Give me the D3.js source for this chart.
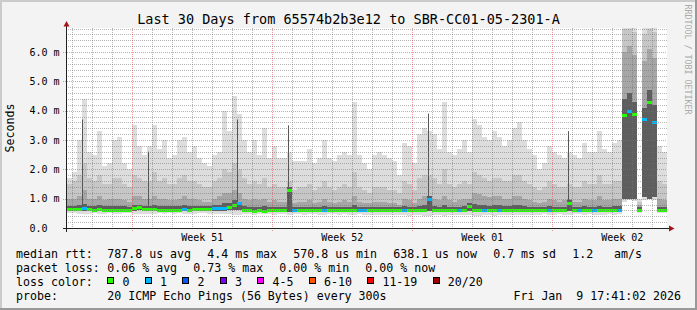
<!DOCTYPE html>
<html lang="en">
<head>
<meta charset="UTF-8">
<title>smokeping last 30 days</title>
<style>
  body { margin: 0; background: #f3f3f3; overflow: hidden; }
  svg { display: block; }
  svg text { font-family: "DejaVu Sans Mono", monospace; fill: #000; white-space: pre; }
  .title { font-size: 13.5px; text-anchor: middle; }
  .legend { font-size: 11.6px; }
  .tick { font-size: 10px; }
  .mark { font-size: 8.3px; fill: #aaaaaa; }
</style>
<script src="https://d3js.org/d3.v7.min.js"></script>
</head>
<body>
<script>
// one value every 6 hours, in ms
var median = [
  0.66,0.66,0.65,0.68,0.64,0.63,0.64,0.63,0.62,0.63,
  0.63,0.62,0.63,0.68,0.70,0.64,0.66,0.64,0.63,0.63,
  0.62,0.63,0.62,0.64,0.63,0.64,0.66,0.65,0.66,0.68,
  0.68,0.68,0.70,0.78,0.85,0.60,0.60,0.59,0.60,0.59,
  0.60,0.60,0.61,0.61,1.30,0.62,0.60,0.61,0.60,0.61,
  0.61,0.60,0.61,0.62,0.61,0.61,0.62,0.62,0.61,0.62,
  0.61,0.60,0.62,0.61,0.61,0.62,0.61,0.62,0.62,0.61,
  0.61,0.62,1.00,0.62,0.61,0.63,0.62,0.61,0.61,0.62,
  0.75,0.62,0.63,0.62,0.61,0.60,0.62,0.61,0.62,0.61,
  0.61,0.61,0.60,0.61,0.61,0.60,0.61,0.61,0.62,0.61,
  0.85,0.62,0.61,0.61,0.61,0.62,0.61,0.61,0.62,0.61,
  0.61,3.85,4.00,3.90,0.60,3.70,4.30,3.60,0.60,0.60
];
var loss = [
  0,0,0,1,0,0,0,0,0,0, 0,0,0,0,0,0,0,0,0,0,
  0,0,0,1,0,0,0,0,0,1, 1,1,0,0,1,0,0,0,0,0,
  0,0,0,0,0,1,0,0,0,0, 0,1,0,0,0,0,0,0,1,1,
  0,0,0,0,0,0,0,1,0,0, 0,0,1,0,0,0,0,0,1,0,
  0,0,0,1,0,0,1,0,0,0, 0,0,0,0,0,0,1,0,0,0,
  0,0,1,0,0,1,0,0,0,0, 1,0,1,0,0,1,0,1,0,0
];
var pMin = [
  0.50,0.50,0.49,0.48,0.49,0.50,0.48,0.49,0.50,0.49,
  0.48,0.50,0.50,0.48,0.47,0.49,0.49,0.48,0.50,0.49,
  0.50,0.49,0.50,0.48,0.49,0.49,0.50,0.50,0.49,0.48,
  0.48,0.47,0.47,0.46,0.46,0.47,0.47,0.46,0.47,0.47,
  0.47,0.46,0.47,0.47,0.46,0.47,0.47,0.46,0.47,0.47,
  0.46,0.46,0.47,0.47,0.46,0.47,0.46,0.45,0.47,0.46,
  0.45,0.44,0.44,0.43,0.44,0.45,0.45,0.43,0.42,0.44,
  0.43,0.42,0.42,0.43,0.44,0.42,0.44,0.45,0.45,0.44,
  0.44,0.42,0.42,0.43,0.43,0.42,0.44,0.45,0.44,0.43,
  0.43,0.44,0.45,0.46,0.46,0.47,0.46,0.46,0.47,0.46,
  0.46,0.47,0.47,0.46,0.47,0.46,0.45,0.46,0.47,0.46,
  0.47,0.90,0.95,0.92,0.50,0.95,0.98,0.95,0.50,0.50
];
var pLow = [
  0.58,0.58,0.58,0.58,0.57,0.57,0.57,0.57,0.56,0.57,
  0.57,0.56,0.57,0.59,0.60,0.57,0.58,0.57,0.57,0.57,
  0.56,0.57,0.56,0.57,0.57,0.57,0.58,0.58,0.58,0.59,
  0.59,0.59,0.60,0.62,0.60,0.54,0.54,0.53,0.54,0.53,
  0.54,0.54,0.55,0.55,0.56,0.55,0.54,0.55,0.54,0.55,
  0.55,0.54,0.55,0.56,0.55,0.55,0.56,0.56,0.55,0.56,
  0.55,0.54,0.55,0.55,0.55,0.56,0.55,0.56,0.56,0.55,
  0.55,0.56,0.58,0.56,0.55,0.56,0.56,0.55,0.55,0.56,
  0.58,0.56,0.56,0.56,0.55,0.54,0.56,0.55,0.56,0.55,
  0.55,0.55,0.54,0.55,0.55,0.54,0.55,0.55,0.56,0.55,
  0.58,0.56,0.55,0.55,0.55,0.56,0.55,0.55,0.56,0.55,
  0.55,1.00,0.98,1.00,0.55,1.05,1.00,1.05,0.55,0.55
];
var p60 = [
  0.76,0.76,0.78,0.82,0.75,0.75,0.78,0.74,0.74,0.76,
  0.76,0.74,0.73,0.80,0.80,0.76,0.76,0.78,0.75,0.76,
  0.74,0.74,0.76,0.78,0.75,0.76,0.75,0.74,0.74,0.78,
  0.80,0.85,0.85,0.95,0.90,0.74,0.72,0.73,0.72,0.74,
  0.72,0.72,0.72,0.72,1.40,0.72,0.72,0.72,0.73,0.71,
  0.72,0.74,0.72,0.71,0.72,0.73,0.72,0.78,0.72,0.71,
  0.71,0.72,0.72,0.72,0.71,0.71,0.70,0.74,0.73,0.71,
  0.74,0.78,1.10,0.76,0.73,0.78,0.73,0.72,0.73,0.75,
  0.85,0.82,0.80,0.78,0.76,0.78,0.78,0.75,0.75,0.78,
  0.78,0.75,0.73,0.72,0.71,0.72,0.74,0.73,0.72,0.73,
  0.95,0.72,0.72,0.74,0.73,0.73,0.76,0.73,0.73,0.74,
  0.74,4.40,4.60,4.30,0.70,4.10,4.70,4.20,0.73,0.72
];
var p75 = [
  1.00,1.00,1.10,1.30,1.00,1.00,1.10,0.95,1.00,1.00,
  1.00,0.95,0.90,1.10,1.10,1.00,1.00,1.10,1.00,1.00,
  0.95,0.95,1.00,1.10,1.00,1.00,0.95,0.90,0.90,1.00,
  1.10,1.20,1.20,1.30,1.20,1.00,0.95,1.00,0.95,1.00,
  0.90,0.95,0.90,0.90,1.30,0.85,0.90,0.90,0.95,0.85,
  0.90,1.00,0.90,0.85,0.90,0.95,0.90,1.10,0.90,0.85,
  0.85,0.90,0.90,0.90,0.85,0.85,0.80,1.00,0.95,0.85,
  1.00,1.10,1.10,1.00,0.95,1.10,0.95,0.90,0.95,1.00,
  1.00,1.20,1.15,1.10,1.05,1.10,1.10,1.00,1.00,1.10,
  1.10,1.00,0.95,0.90,0.85,0.90,1.00,0.95,0.90,0.95,
  1.00,0.90,0.90,1.00,0.95,0.95,1.10,0.95,0.95,1.00,
  1.00,6.00,6.20,5.90,0.80,5.70,6.10,5.80,1.00,0.95
];
var p90 = [
  1.5,1.6,1.8,2.2,1.7,1.6,1.8,1.5,1.5,1.7,
  1.7,1.5,1.4,1.8,1.7,1.6,1.6,1.9,1.6,1.7,
  1.5,1.5,1.7,1.8,1.6,1.6,1.5,1.4,1.4,1.6,
  1.7,2.0,1.9,2.2,2.0,1.7,1.5,1.6,1.5,1.7,
  1.4,1.5,1.4,1.4,1.6,1.3,1.4,1.4,1.5,1.3,
  1.4,1.6,1.4,1.3,1.4,1.5,1.4,1.9,1.4,1.3,
  1.2,1.4,1.4,1.4,1.3,1.3,1.2,1.6,1.5,1.3,
  1.7,1.8,1.8,1.7,1.5,2.0,1.5,1.4,1.5,1.6,
  1.5,1.9,1.8,1.7,1.6,1.7,1.7,1.6,1.6,1.8,
  1.8,1.6,1.5,1.4,1.3,1.4,1.6,1.5,1.4,1.4,
  1.5,1.4,1.4,1.6,1.5,1.5,1.8,1.5,1.5,1.6,
  1.6,6.8,6.8,6.7,0.9,6.6,6.8,6.7,1.6,1.5
];
var pMax = [
  1.7,1.9,3.0,4.4,2.6,2.5,3.3,2.1,2.2,3.0,
  3.1,2.2,2.0,3.5,2.8,2.5,2.8,3.5,2.7,3.0,
  2.4,2.5,3.0,3.1,2.6,2.8,2.4,2.2,2.1,2.5,
  2.6,4.0,3.3,4.5,3.9,3.0,2.6,3.0,2.5,3.4,
  2.4,2.8,2.4,2.4,2.6,2.3,2.3,2.3,2.7,2.2,
  2.4,3.0,2.4,2.3,2.5,2.6,2.5,4.3,2.5,2.2,
  2.0,2.5,2.6,2.5,2.4,2.3,1.8,2.9,2.8,2.2,
  3.2,3.4,3.3,3.2,2.7,4.3,2.6,2.5,2.7,3.0,
  2.6,3.7,3.5,3.1,3.0,3.3,3.1,2.8,3.0,3.4,
  3.6,3.0,2.7,2.5,2.0,2.2,2.8,2.6,2.5,2.4,
  2.6,2.5,2.4,2.9,2.6,2.6,3.3,2.7,2.6,2.9,
  3.0,7.0,7.0,7.0,1.0,7.0,7.0,7.0,2.8,2.6
];
// single samples that show as thin dark lines (days after start, ms)
var spikeDay = [0.75, 4.05, 8.5, 11.05, 18.05, 25.05];
var spikeTop = [3.7, 2.6, 3.7, 3.5, 3.9, 3.3];

var yTicks = [0, 1, 2, 3, 4, 5, 6];
var yTickLabels = ["0.0", "1.0 m", "2.0 m", "3.0 m", "4.0 m", "5.0 m", "6.0 m"];
var weekLabels = ["Week 51", "Week 52", "Week 01", "Week 02"];

var lossNames = ["0", "1", "2", "3", "4-5", "6-10", "11-19", "20/20"];
var lossColors = ["#26ff00", "#00b8ff", "#0059ff", "#7e00ff", "#ff00ff", "#ff5500", "#ff0000", "#a10000"];
var rttStats = ["787.8 us avg", "4.4 ms max", "570.8 us min", "638.1 us now", "0.7 ms sd", "1.2   am/s"];
var lossStats = ["0.06 % avg", "0.73 % max", "0.00 % min", "0.00 % now"];

const w = 697, h = 310,
      pL = 67, pR = 667, pT = 28, pB = 228;
const tEnd = new Date(2026, 0, 9, 17, 41, 2),
      tStart = d3.timeDay.offset(tEnd, -30),
      step = 6 * 3600 * 1000;
const binStart = median.map((d, i) => new Date(+tStart + i * step));

const x = d3.scaleTime().domain([tStart, tEnd]).range([pL, pR]);
const y = d3.scaleLinear().domain([0, 6.82]).range([pB, pT]);

const svg = d3.select("body").append("svg")
    .attr("width", w)
    .attr("height", h);

svg.append("rect").attr("width", w).attr("height", h).attr("fill", "#f3f3f3");
svg.append("path").attr("d", `M0,0H${w}V2H2V${h}H0Z`).attr("fill", "#cbcbcb");
svg.append("path").attr("d", `M${w},${h}H0V${h - 2}H${w - 2}V0H${w}Z`).attr("fill", "#999999");

svg.append("rect")
    .attr("x", pL).attr("y", pT)
    .attr("width", pR - pL).attr("height", pB - pT)
    .attr("fill", "#fff");

svg.append("clipPath").attr("id", "plot")
  .append("rect")
    .attr("x", pL).attr("y", pT)
    .attr("width", pR - pL).attr("height", pB - pT);

const plot = svg.append("g").attr("clip-path", "url(#plot)");

// smoke
const bands = [
    { lo: pMin, hi: pMax, color: "#dddddd" },
    { lo: pLow, hi: p90, color: "#c6c6c6" },
    { lo: pLow, hi: p75, color: "#a6a6a6" },
    { lo: pLow, hi: p60, color: "#5e5e5e" }
];
bands.forEach(b => {
    plot.append("g").selectAll("rect")
        .data(median)
        .enter()
        .append("rect")
        .attr("x", (d, i) => x(binStart[i]))
        .attr("width", (d, i) => x(new Date(+binStart[i] + step)) - x(binStart[i]))
        .attr("y", (d, i) => y(b.hi[i]))
        .attr("height", (d, i) => y(b.lo[i]) - y(b.hi[i]))
        .attr("fill", b.color)
        .attr("shape-rendering", "crispEdges");
});

plot.append("g").selectAll("line")
    .data(spikeDay)
    .enter()
    .append("line")
    .attr("x1", d => Math.round(x(d3.timeHour.offset(tStart, d * 24))) + 0.5)
    .attr("x2", d => Math.round(x(d3.timeHour.offset(tStart, d * 24))) + 0.5)
    .attr("y1", y(0.62))
    .attr("y2", (d, i) => y(spikeTop[i]))
    .attr("stroke", "#555");

// median coloured by loss
function lossIndex(n) {
    if (n <= 3) return n;
    if (n <= 5) return 4;
    if (n <= 10) return 5;
    if (n <= 19) return 6;
    return 7;
}
plot.append("g").selectAll("rect")
    .data(median)
    .enter()
    .append("rect")
    .attr("x", (d, i) => x(binStart[i]))
    .attr("width", (d, i) => x(new Date(+binStart[i] + step)) - x(binStart[i]))
    .attr("y", d => Math.round(y(d)) - 1.5)
    .attr("height", 3)
    .attr("fill", (d, i) => lossColors[lossIndex(loss[i])])
    .attr("shape-rendering", "crispEdges");

// grid on top
const minorColor = "rgba(110,110,110,0.5)",
      majorColor = "rgba(225,70,70,0.55)";
const grid = svg.append("g").attr("stroke-dasharray", "1,1").attr("shape-rendering", "crispEdges");
const yMinor = d3.range(1, 35).map(k => k / 5).filter(v => Math.abs(v - Math.round(v)) > 1e-6);
grid.selectAll(".hminor")
    .data(yMinor)
    .enter()
    .append("line")
    .attr("x1", pL - 1).attr("x2", pR)
    .attr("y1", d => Math.round(y(d)) + 0.5)
    .attr("y2", d => Math.round(y(d)) + 0.5)
    .attr("stroke", minorColor);

const weeks = d3.timeSunday.range(tStart, tEnd);
const days = d3.timeDay.range(d3.timeDay.ceil(tStart), tEnd)
    .filter(d => d.getDay() !== 0);
grid.selectAll(".vminor")
    .data(days)
    .enter()
    .append("line")
    .attr("x1", d => Math.round(x(d)) + 0.5)
    .attr("x2", d => Math.round(x(d)) + 0.5)
    .attr("y1", pT).attr("y2", pB + 1)
    .attr("stroke", minorColor);

grid.selectAll(".hmajor")
    .data(yTicks.slice(1))
    .enter()
    .append("line")
    .attr("x1", pL - 4).attr("x2", pR)
    .attr("y1", d => Math.round(y(d)) + 0.5)
    .attr("y2", d => Math.round(y(d)) + 0.5)
    .attr("stroke", majorColor);

grid.selectAll(".vmajor")
    .data(weeks)
    .enter()
    .append("line")
    .attr("x1", d => Math.round(x(d)) + 0.5)
    .attr("x2", d => Math.round(x(d)) + 0.5)
    .attr("y1", pT).attr("y2", pB + 4)
    .attr("stroke", majorColor);

// axes
svg.append("line")
    .attr("x1", pL - 4).attr("x2", pR + 3)
    .attr("y1", pB + 0.5).attr("y2", pB + 0.5)
    .attr("stroke", "#222");
svg.append("line")
    .attr("x1", pL - 0.5).attr("x2", pL - 0.5)
    .attr("y1", pB + 4).attr("y2", pT - 3)
    .attr("stroke", "#222");
svg.append("path")
    .attr("d", `M${pL - 3.5},${pT - 1.5}L${pL + 2.5},${pT - 1.5}L${pL - 0.5},${pT - 7}Z`)
    .attr("fill", "#a31515");
svg.append("path")
    .attr("d", `M${pR + 2},${pB - 2.5}L${pR + 2},${pB + 3.5}L${pR + 7.5},${pB + 0.5}Z`)
    .attr("fill", "#a31515");

svg.selectAll(".ylab")
    .data(yTicks)
    .enter()
    .append("text")
    .attr("class", "tick")
    .attr("x", 29.5)
    .attr("y", d => y(d) + 3.6)
    .text((d, i) => yTickLabels[i]);

svg.selectAll(".xlab")
    .data(weeks.filter(d => d3.timeHour.offset(d, 84) < tEnd))
    .enter()
    .append("text")
    .attr("class", "tick")
    .attr("text-anchor", "middle")
    .attr("x", d => x(d3.timeHour.offset(d, 84)))
    .attr("y", pB + 12.7)
    .text((d, i) => weekLabels[i]);

svg.append("text").attr("class", "title")
    .attr("x", w / 2).attr("y", 24)
    .text("Last 30 Days from 65574b2b3e12 to SBR-CC01-05-2301-A");

svg.append("text").attr("class", "legend")
    .attr("text-anchor", "middle")
    .attr("transform", "translate(14," + (pT + pB) / 2 + ") rotate(-90)")
    .text("Seconds");

svg.append("text").attr("class", "mark")
    .attr("transform", "translate(684.5,4.5) rotate(90)")
    .text("RRDTOOL / TOBI OETIKER");

// legend
const rows = [257.7, 271.9, 286.1, 300.3];
function statRow(label, items, yb) {
    svg.append("text").attr("class", "legend").attr("x", 16).attr("y", yb).text(label);
    let xx = 107.3;
    items.forEach(s => {
        const t = svg.append("text").attr("class", "legend").attr("x", xx).attr("y", yb).text(s);
        xx += t.node().getComputedTextLength() + 16.2;
    });
}
statRow("median rtt:", rttStats, rows[0]);
statRow("packet loss:", lossStats, rows[1]);

svg.append("text").attr("class", "legend").attr("x", 16).attr("y", rows[2]).text("loss color:");
let bx = 107.3;
lossNames.forEach((s, i) => {
    svg.append("rect")
        .attr("x", Math.round(bx) + 0.5).attr("y", rows[2] - 8.6)
        .attr("width", 6).attr("height", 6)
        .attr("fill", lossColors[i])
        .attr("stroke", "#000");
    const t = svg.append("text").attr("class", "legend")
        .attr("x", bx + 15.3).attr("y", rows[2]).text(s);
    bx += 15.3 + t.node().getComputedTextLength() + 15.2;
});

svg.append("text").attr("class", "legend").attr("x", 16).attr("y", rows[3]).text("probe:");
svg.append("text").attr("class", "legend").attr("x", 107.3).attr("y", rows[3])
    .text("20 ICMP Echo Pings (56 Bytes) every 300s");
svg.append("text").attr("class", "legend").attr("text-anchor", "end")
    .attr("x", 681).attr("y", rows[3])
    .text("Fri Jan  9 17:41:02 2026");
</script>
</body>
</html>
